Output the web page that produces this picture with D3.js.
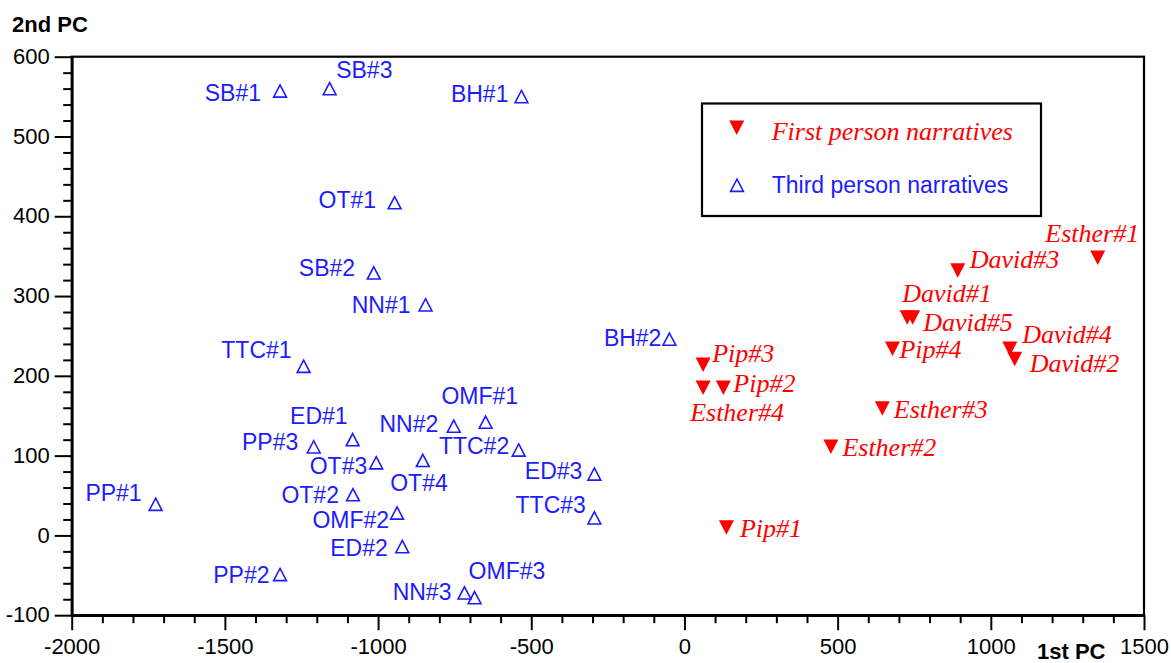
<!DOCTYPE html>
<html>
<head>
<meta charset="utf-8">
<script src="https://cdn.jsdelivr.net/npm/d3@7"></script>
<style>
  html, body { margin: 0; padding: 0; background: #fff; }
  svg { display: block; }
</style>
</head>
<body>
<svg id="chart" width="1171" height="663"></svg>
<script>
// ---------------- DATA ----------------
const thirdNames = ["SB#1","SB#3","BH#1","OT#1","SB#2","NN#1","TTC#1","BH#2","OMF#1","NN#2","ED#1","PP#3",
                    "TTC#2","OT#3","OT#4","ED#3","PP#1","OT#2","OMF#2","TTC#3","ED#2","PP#2","NN#3","OMF#3"];
const thirdX = [-1320,-1158,-532,-946,-1014,-845,-1243,-49,-649,-753,-1083,-1210,
                -541,-1006,-854,-294,-1726,-1082,-938,-294,-921,-1320,-718,-685];
const thirdY = [557,560,550,417,329,289,212,246,142,137,120,111,
                107,91,94,77,39,51,28,22,-14,-49,-72,-78];

const firstNames = ["Pip#3","Esther#4","Pip#2","Pip#1","Esther#2","Esther#3","Pip#4",
                    "David#1","David#5","David#3","Esther#1","David#4","David#2"];
const firstX = [61,61,127,137,478,646,679,727,745,892,1349,1062,1078];
const firstY = [214,185,185,10,111,159,234,273,273,332,348,234,221];

const xTickValues = [-2000,-1500,-1000,-500,0,500,1000,1500];
const yTickValues = [-100,0,100,200,300,400,500,600];
const xTitle = "1st PC";
const yTitle = "2nd PC";
const legendLabels = ["First person narratives","Third person narratives"];

// label placements (anchor, dx, dy in px relative to marker)
const thirdLabelPos = [
  ["end",-19,10],["start",6.5,-10.5],["end",-13,5.5],["end",-18.5,5.5],["end",-18.7,3],["end",-15,7.7],
  ["end",-12,-8],["end",-8,6.7],["middle",-5.8,-17.7],["end",-15.5,5.4],["end",-5,-15.7],["end",-15.5,3],
  ["end",-9.5,4.3],["end",-9,11],["middle",-3.8,30.4],["end",-12,4.6],["end",-14,-2.8],["end",-14,8.6],
  ["end",-8,14.6],["end",-8.5,-4.4],["end",-14.5,9.7],["end",-10.5,8],["end",-13,7.2],["start",-6,-18.5]
];
const firstLabelPos = [
  ["start",9,-2.5],["start",-13,33],["start",10,4],["start",13.5,9.5],["start",11.5,9.5],["start",11.5,9.5],
  ["start",7,9.5],["start",-5,-16],["start",10.6,13],["start",12,-3],["end",41.5,-16],["start",12.5,-6],["start",15,13]
];

// ---------------- STYLE ----------------
const BLUE = "#1c1cff";
const RED = "#ff0000";
const sans = "'Liberation Sans', Arial, sans-serif";
const serif = "'Liberation Serif', 'Times New Roman', serif";

const svg = d3.select("#chart");
const x = d3.scaleLinear().domain([-2000, 1500]).range([71.7, 1144]);
const y = d3.scaleLinear().domain([-100, 600]).range([615.2, 56.7]);

// frame (top & right)
svg.append("rect")
  .attr("x", x(-2000)).attr("y", y(600))
  .attr("width", x(1500) - x(-2000)).attr("height", y(-100) - y(600))
  .attr("fill", "none").attr("stroke", "#000").attr("stroke-width", 2.2);

// minor ticks
const xMinor = d3.range(-2000, 1501, 100).filter(v => v % 500 !== 0);
const yMinor = d3.range(-100, 601, 20).filter(v => v % 100 !== 0);

const fmt = d => String(d);

const gxMinor = svg.append("g").attr("transform", `translate(0,${y(-100)})`)
  .call(d3.axisBottom(x).tickValues(xMinor).tickSize(8).tickSizeOuter(0).tickFormat(""));
const gyMinor = svg.append("g").attr("transform", `translate(${x(-2000)},0)`)
  .call(d3.axisLeft(y).tickValues(yMinor).tickSize(8.5).tickSizeOuter(0).tickFormat(""));

const gx = svg.append("g").attr("transform", `translate(0,${y(-100)})`)
  .call(d3.axisBottom(x).tickValues(xTickValues).tickSize(15).tickSizeOuter(0).tickPadding(6).tickFormat(fmt));
const gy = svg.append("g").attr("transform", `translate(${x(-2000)},0)`)
  .call(d3.axisLeft(y).tickValues(yTickValues).tickSize(17).tickSizeOuter(0).tickPadding(5).tickFormat(fmt));

[gxMinor, gyMinor, gx, gy].forEach(g => {
  g.select(".domain").attr("stroke", "#000").attr("stroke-width", 2.4);
  g.selectAll(".tick line").attr("stroke", "#000").attr("stroke-width", 2);
  g.selectAll(".tick text").attr("fill", "#000").style("font-family", sans).style("font-size", "22px");
});
gx.selectAll(".tick text").attr("dy", "0.82em");
gy.selectAll(".tick text").attr("dy", "0.3em");

// axis titles
svg.append("text").attr("x", 12).attr("y", 32).text(yTitle)
  .style("font-family", sans).style("font-size", "22px").style("font-weight", "bold");
svg.append("text").attr("x", 1037).attr("y", 659).text(xTitle)
  .style("font-family", sans).style("font-size", "22px").style("font-weight", "bold");

// triangle paths centered on bbox center
const upTri = (w, h) => `M0,${-h/2}L${w/2},${h/2}L${-w/2},${h/2}Z`;
const downTri = (w, h) => `M${-w/2},${-h/2}L${w/2},${-h/2}L0,${h/2}Z`;

const third = thirdNames.map((n, i) => ({name: n, x: thirdX[i], y: thirdY[i], pos: thirdLabelPos[i]}));
const first = firstNames.map((n, i) => ({name: n, x: firstX[i], y: firstY[i], pos: firstLabelPos[i]}));

svg.append("g").selectAll("path").data(third).join("path")
  .attr("transform", d => `translate(${x(d.x)},${y(d.y)})`)
  .attr("d", upTri(12.8, 12.2))
  .attr("fill", "none").attr("stroke", BLUE).attr("stroke-width", 1.6);

svg.append("g").selectAll("text").data(third).join("text")
  .attr("x", d => x(d.x) + d.pos[1]).attr("y", d => y(d.y) + d.pos[2])
  .attr("text-anchor", d => d.pos[0])
  .text(d => d.name)
  .attr("fill", BLUE).style("font-family", sans).style("font-size", "23px");

svg.append("g").selectAll("path").data(first).join("path")
  .attr("transform", d => `translate(${x(d.x)},${y(d.y)})`)
  .attr("d", downTri(15, 14.5))
  .attr("fill", RED);

svg.append("g").selectAll("text").data(first).join("text")
  .attr("x", d => x(d.x) + d.pos[1]).attr("y", d => y(d.y) + d.pos[2])
  .attr("text-anchor", d => d.pos[0])
  .text(d => d.name)
  .attr("fill", RED).style("font-family", serif).style("font-style", "italic").style("font-size", "26px");

// legend
const lg = svg.append("g");
lg.append("rect").attr("x", 702).attr("y", 103.5).attr("width", 339).attr("height", 112.5)
  .attr("fill", "#fff").attr("stroke", "#000").attr("stroke-width", 2.2);
lg.append("path").attr("transform", "translate(736.7,127.8)").attr("d", downTri(15, 14.5)).attr("fill", RED);
lg.append("path").attr("transform", "translate(737,185.3)").attr("d", upTri(12.8, 12.2))
  .attr("fill", "none").attr("stroke", BLUE).attr("stroke-width", 1.6);
lg.append("text").attr("x", 771.7).attr("y", 139.5).text(legendLabels[0])
  .attr("fill", RED).style("font-family", serif).style("font-style", "italic").style("font-size", "26px");
lg.append("text").attr("x", 771.7).attr("y", 192.5).text(legendLabels[1])
  .attr("fill", BLUE).style("font-family", sans).style("font-size", "23px");
</script>
</body>
</html>
